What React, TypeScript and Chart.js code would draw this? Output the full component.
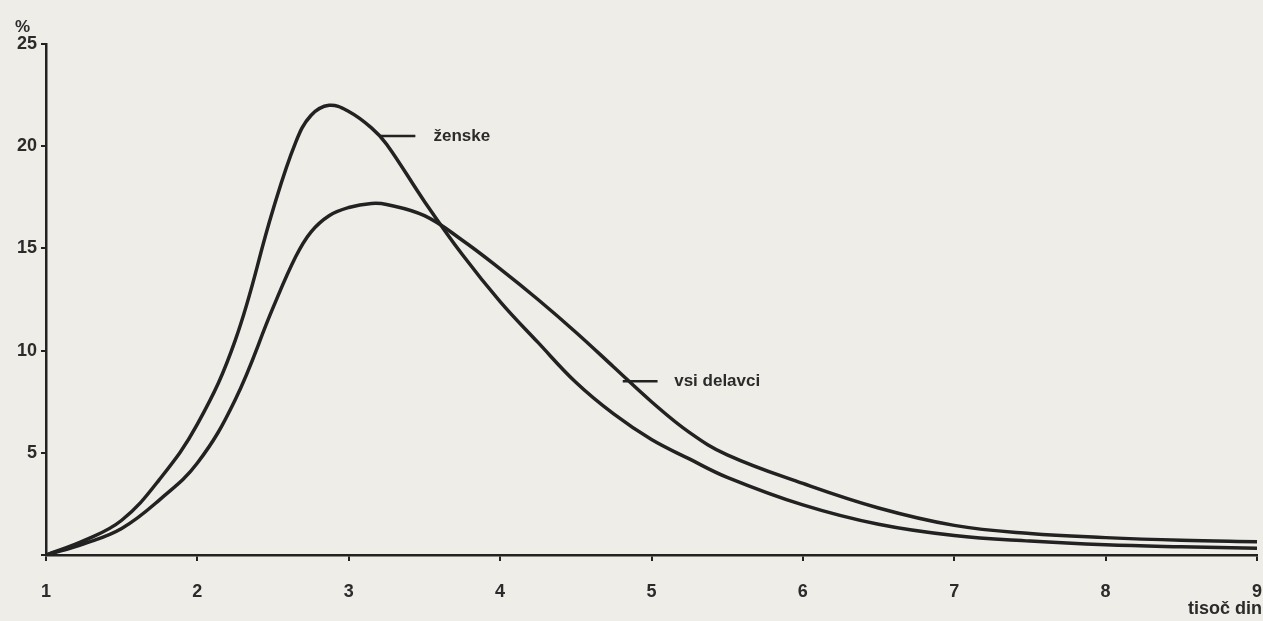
import React, { useEffect, useRef } from "react";
import { Chart, registerables } from "chart.js";

Chart.register(...registerables);

// thousands of dinars
const xValues = [1, 1.25, 1.5, 1.75, 2, 2.25, 2.5, 2.65, 2.75, 2.87, 3, 3.15, 3.25, 3.5, 3.75, 4, 4.25, 4.5, 4.75, 5, 5.25, 5.5, 6, 6.5, 7, 7.5, 8, 8.5, 9];
// % ženske
const zenske = [0, 0.7, 1.7, 3.7, 6.4, 10.5, 16.9, 20.2, 21.5, 22.0, 21.7, 20.9, 20.1, 17.3, 14.7, 12.4, 10.4, 8.45, 6.9, 5.65, 4.7, 3.8, 2.45, 1.5, 0.95, 0.68, 0.5, 0.4, 0.33];
// % vsi delavci
const vsiDelavci = [0, 0.55, 1.3, 2.7, 4.5, 7.6, 12.1, 14.6, 15.8, 16.6, 17.0, 17.2, 17.15, 16.6, 15.4, 14.0, 12.5, 10.9, 9.2, 7.5, 6.0, 4.9, 3.5, 2.3, 1.45, 1.05, 0.85, 0.72, 0.65];

const xTicks = [1, 2, 3, 4, 5, 6, 7, 8, 9];
const yTicks = [0, 5, 10, 15, 20, 25];

const seriesLabels = ["ženske", "vsi delavci"];
const yUnit = "%";
const xUnit = "tisoč din";

// label anchors in data coordinates: [lineStartX, lineEndX, textX, y]
const zenskeLabelAnchor = [3.21, 3.44, 3.56, 20.5];
const vsiLabelAnchor = [4.81, 5.04, 5.15, 8.5];

const INK = "#222222";
const TEXT = "#2b2b2b";
const FONT = "'Liberation Sans', Arial, sans-serif";

export default function App() {
  const ref = useRef<HTMLCanvasElement | null>(null);

  useEffect(() => {
    if (!ref.current) return;
    const annotate = {
      id: "annotate",
      afterDraw(chart: any) {
        const ctx = chart.ctx;
        const xs = chart.scales.x;
        const ys = chart.scales.y;
        ctx.save();
        ctx.fillStyle = TEXT;
        ctx.strokeStyle = INK;
        ctx.font = `bold 17px ${FONT}`;
        ctx.textBaseline = "middle";
        const anchors = [zenskeLabelAnchor, vsiLabelAnchor];
        anchors.forEach((a, i) => {
          const y = ys.getPixelForValue(a[3]);
          ctx.lineWidth = 2.5;
          ctx.beginPath();
          ctx.moveTo(xs.getPixelForValue(a[0]), y);
          ctx.lineTo(xs.getPixelForValue(a[1]), y);
          ctx.stroke();
          ctx.textAlign = "left";
          ctx.fillText(seriesLabels[i], xs.getPixelForValue(a[2]), y);
        });
        ctx.font = `bold 17px ${FONT}`;
        ctx.textAlign = "left";
        ctx.fillText(yUnit, 15, 27);
        ctx.font = `bold 18px ${FONT}`;
        ctx.textAlign = "right";
        ctx.fillText(xUnit, 1262, 609);
        ctx.restore();
      },
    };

    const common = {
      borderColor: INK,
      borderWidth: 3.5,
      pointRadius: 0,
      tension: 0.4,
      fill: false,
    };

    const chart = new Chart(ref.current, {
      type: "line",
      data: {
        datasets: [
          { ...common, label: seriesLabels[0], data: xValues.map((x, i) => ({ x, y: zenske[i] })) },
          { ...common, label: seriesLabels[1], data: xValues.map((x, i) => ({ x, y: vsiDelavci[i] })) },
        ],
      },
      options: {
        animation: false,
        responsive: false,
        maintainAspectRatio: false,
        layout: { padding: { top: 44, right: 6, left: 0, bottom: 0 } },
        plugins: { legend: { display: false }, tooltip: { enabled: false } },
        scales: {
          x: {
            type: "linear",
            min: 1,
            max: 9,
            afterBuildTicks: (s: any) => {
              s.ticks = xTicks.map((v) => ({ value: v }));
            },
            afterFit: (s: any) => {
              s.height = 66;
              s.paddingRight = 0;
              s.paddingLeft = 0;
            },
            grid: { drawOnChartArea: false, drawTicks: true, tickLength: 6, color: INK, lineWidth: 2 },
            border: { display: true, color: INK, width: 2.5 },
            ticks: {
              color: TEXT,
              padding: 20,
              maxRotation: 0,
              autoSkip: false,
              font: { family: FONT, size: 18, weight: "bold" },
            },
          },
          y: {
            min: 0,
            max: 25,
            afterBuildTicks: (s: any) => {
              s.ticks = yTicks.map((v) => ({ value: v }));
            },
            afterFit: (s: any) => {
              s.width = 46;
              s.paddingTop = 0;
              s.paddingBottom = 0;
            },
            grid: { drawOnChartArea: false, drawTicks: true, tickLength: 5, color: INK, lineWidth: 2 },
            border: { display: true, color: INK, width: 2.5 },
            ticks: {
              color: TEXT,
              padding: 4,
              autoSkip: false,
              font: { family: FONT, size: 18, weight: "bold" },
              callback: (v: any) => (v === 0 ? "" : String(v)),
            },
          },
        },
      },
      plugins: [annotate],
    });
    return () => chart.destroy();
  }, []);

  return (
    <div style={{ position: "fixed", left: 0, top: 0, width: 1263, height: 621, background: "#efede7" }}>
      <canvas ref={ref} width={1263} height={621} style={{ display: "block", width: 1263, height: 621 }} />
    </div>
  );
}
